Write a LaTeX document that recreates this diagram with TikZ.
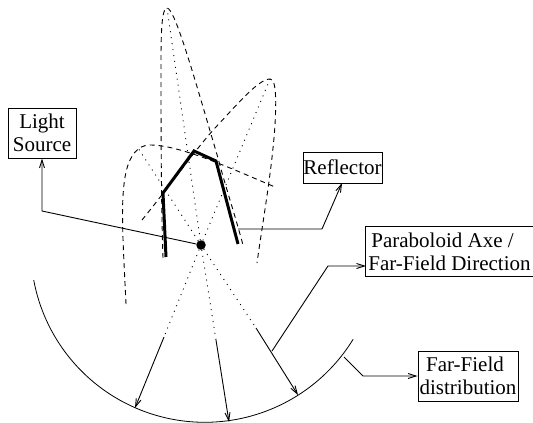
\documentclass[tikz,border=0pt]{standalone}
\usepackage{fontspec}
\setmainfont{Liberation Serif}
\usetikzlibrary{arrows.meta}
\tikzset{
 lbl/.style={draw,line width=0.9pt,inner sep=0pt,align=center,font=\fontsize{21}{23}\selectfont,anchor=center},
 thin line/.style={line width=0.8pt},
 conn/.style={line width=0.9pt,-{Straight Barb[length=8pt,width=5pt]}},
 par/.style={line width=0.9pt,dash pattern=on 5pt off 4pt},
 ray/.style={line width=0.9pt,dash pattern=on 1pt off 5pt},
 refl/.style={line width=3pt,line join=miter}
}
\begin{document}
\begin{tikzpicture}[x=1pt,y=-1pt]
\useasboundingbox (0,0) rectangle (533,423);
\node[lbl,minimum width=68pt,minimum height=50pt] (light) at (42,133) {Light\\Source};
\node[lbl,minimum width=79pt,minimum height=31pt] (reflbox) at (342.5,167.5) {Reflector};
\node[lbl,draw=none,minimum width=167pt,minimum height=49pt] (axe) at (449.5,251.5) {Paraboloid Axe /\hspace*{14pt}\\Far-Field Direction};
\draw[line width=0.9pt] (axe.north east) -- (axe.north west) -- (axe.south west) -- (axe.south east);
\node[lbl,minimum width=100pt,minimum height=50pt] (far) at (468,376) {Far-Field\hspace*{6pt}\\distribution};
\node[circle,fill=black,inner sep=0pt,minimum size=9.5pt] (src) at (201,245) {};
\coordinate (p1) at (138,148);\coordinate (p2) at (167,8);\coordinate (p3) at (270,79);
\coordinate (a1s) at (164,337);\coordinate (a1e) at (135,408);
\coordinate (a2s) at (216,340);\coordinate (a2e) at (229,422);
\coordinate (a3s) at (256,328);\coordinate (a3e) at (298,395);
% dashed parabolas
\draw[par] (126,304) .. controls (123,240) and (120,200) .. (126,172) .. controls (130,155) and (138,145) .. (150,145) .. controls (180,145) and (230,168) .. (275,187);
\draw[par] (163,258) .. controls (161,200) and (161,120) .. (161,60) .. controls (161,30) and (162,8) .. (167,8) .. controls (175,8) and (195,80) .. (218,158) .. controls (225,185) and (235,215) .. (243,245);
\draw[par] (142,220) .. controls (165,192) and (195,150) .. (215,128) .. controls (235,107) and (258,79) .. (270,79) .. controls (277,79) and (276,105) .. (275,125) .. controls (272,170) and (263,220) .. (257,263);
% rays
\draw[ray] (src) -- (p1);
\draw[ray] (src) -- (p2);
\draw[ray] (src) -- (p3);
\draw[ray] (src) -- (a1s);
\draw[ray] (src) -- (a2s);
\draw[ray] (src) -- (a3s);
% reflector
\draw[refl] (166,257) -- (163,193) -- (194,151) -- (216,161) -- (238,244);
% far field
\draw[thin line] plot[domain=31.5:169.5,samples=80,smooth] ({204.8+174*cos(\x)},{248.3+174*sin(\x)});
\draw[conn] (a1s) -- (a1e);
\draw[conn] (a2s) -- (a2e);
\draw[conn] (a3s) -- (a3e);
% connectors
\draw[conn] (src) -- (42,211) -- (light.south);
\draw[conn] (238,229) -- (322,229) -- (342,183);
\draw[conn] (272,351) -- (328,266) -- (366,266);
\draw[conn] (344,357) -- (363,376) -- (far.west);
\end{tikzpicture}
\end{document}
